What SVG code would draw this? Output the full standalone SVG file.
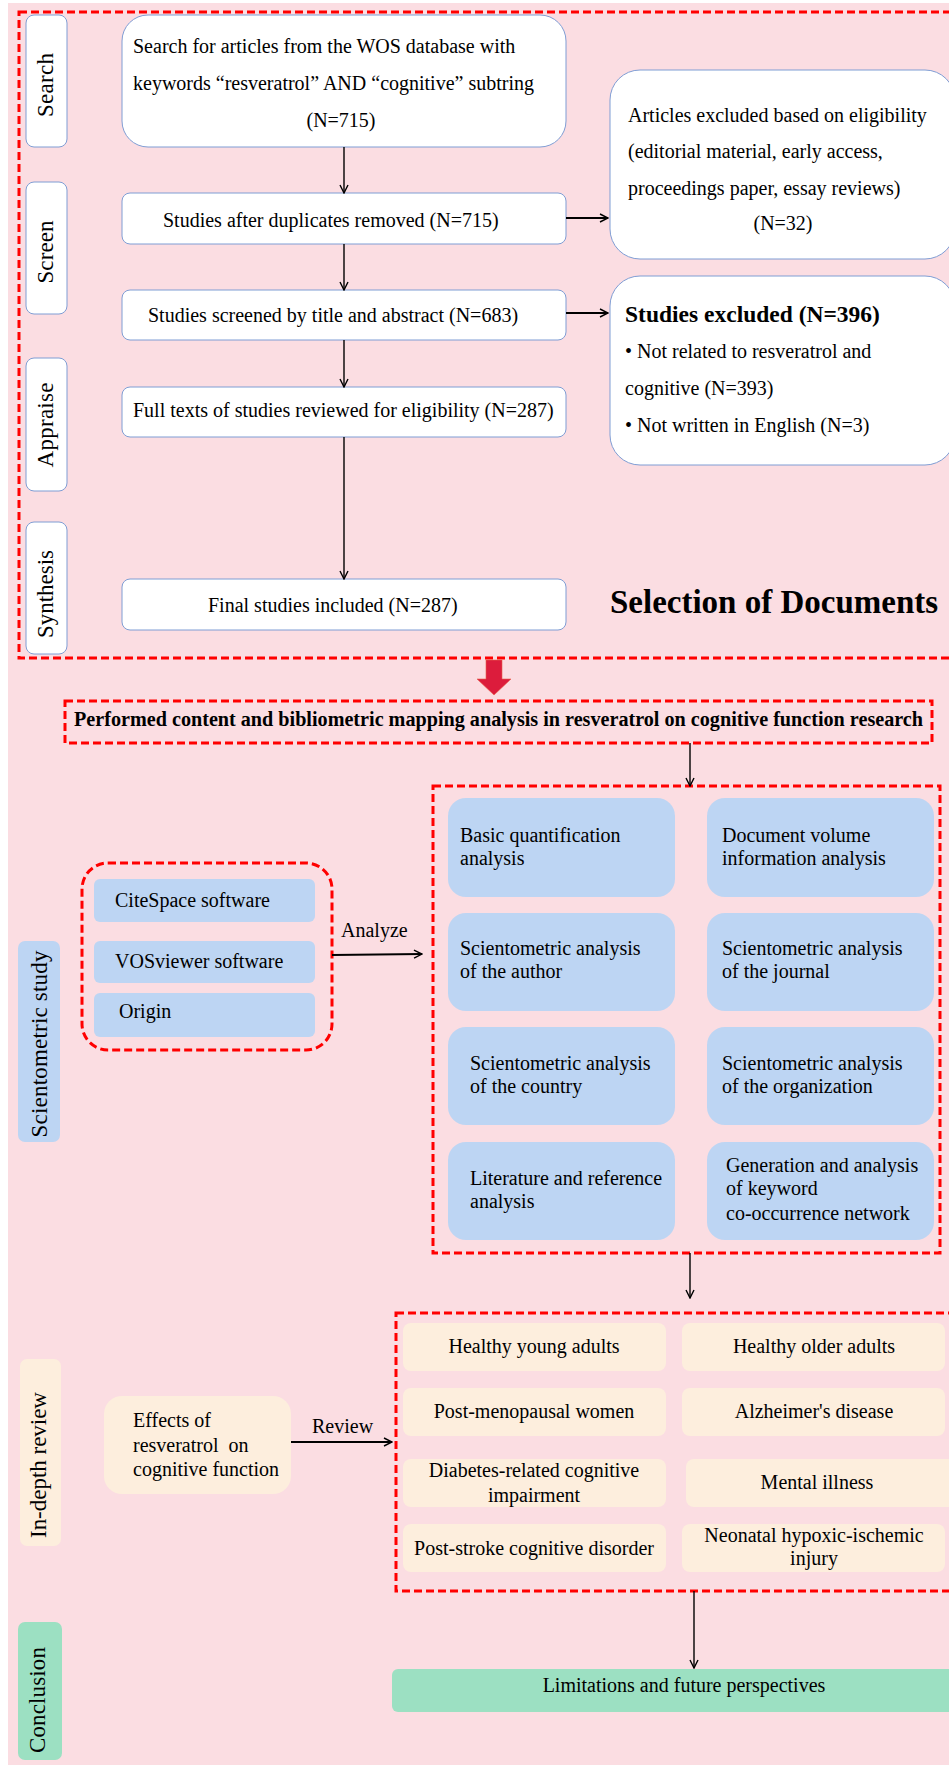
<svg xmlns="http://www.w3.org/2000/svg" width="949" height="1765" viewBox="0 0 949 1765">
<style>
text{font-family:"Liberation Serif","Times New Roman",serif;fill:#000}
.t{font-size:20px}
.b{font-weight:bold}
.side{font-size:23px;text-anchor:middle}
.wbox{fill:#fff;stroke:#7f9dd4;stroke-width:1}
.blue{fill:#bdd5f3}
.org{fill:#fdeedd}
.grn{fill:#9ce0c2}
.dash{fill:none;stroke:#ff0000;stroke-width:3;stroke-dasharray:8 4}
.c{stroke:#000;stroke-width:1.4;fill:none}
.c2{stroke:#000;stroke-width:2;fill:none}
.m{text-anchor:middle}
</style>
<defs>
<marker id="ah" markerWidth="10" markerHeight="10" refX="9" refY="5" orient="auto" markerUnits="userSpaceOnUse">
<path d="M1,1 L9,5 L1,9" fill="none" stroke="#000" stroke-width="1.4"/>
</marker>
</defs>
<rect x="8" y="3" width="941" height="1762" fill="#fbdde2"/>
<rect class="dash" x="19" y="12" width="940" height="646"/>

<g id="lbl-search"><rect class="wbox" x="26" y="15" width="41" height="132" rx="8"/><text class="side" transform="translate(53,85) rotate(-90)" textLength="64" lengthAdjust="spacing">Search</text></g>
<g id="lbl-screen"><rect class="wbox" x="26" y="182" width="41" height="132" rx="8"/><text class="side" transform="translate(53,252) rotate(-90)" textLength="63" lengthAdjust="spacing">Screen</text></g>
<g id="lbl-appraise"><rect class="wbox" x="26" y="358" width="41" height="133" rx="8"/><text class="side" transform="translate(53,425) rotate(-90)" textLength="85" lengthAdjust="spacing">Appraise</text></g>
<g id="lbl-synthesis"><rect class="wbox" x="26" y="522" width="41" height="132" rx="8"/><text class="side" transform="translate(53,594) rotate(-90)" textLength="88" lengthAdjust="spacing">Synthesis</text></g>

<g id="n-search"><rect class="wbox" x="122" y="15" width="444" height="132" rx="26"/>
<text class="t" x="133" y="53">Search for articles from the WOS database with</text>
<text class="t" x="133" y="90">keywords “resveratrol” AND “cognitive” subtring</text>
<text class="t m" x="341" y="127">(N=715)</text></g>
<g id="n-dup"><rect class="wbox" x="122" y="193" width="444" height="51" rx="8"/><text class="t" x="163" y="227">Studies after duplicates removed (N=715)</text></g>
<g id="n-screened"><rect class="wbox" x="122" y="290" width="444" height="50" rx="8"/><text class="t" x="148" y="322">Studies screened by title and abstract (N=683)</text></g>
<g id="n-full"><rect class="wbox" x="122" y="387" width="444" height="50" rx="8"/><text class="t" x="133" y="417">Full texts of studies reviewed for eligibility (N=287)</text></g>
<g id="n-final"><rect class="wbox" x="122" y="579" width="444" height="51" rx="8"/><text class="t" x="208" y="612">Final studies included (N=287)</text></g>

<g id="n-artexcl"><rect class="wbox" x="610" y="70" width="345" height="189" rx="30"/>
<text class="t" x="628" y="122">Articles excluded based on eligibility</text>
<text class="t" x="628" y="158">(editorial material, early access,</text>
<text class="t" x="628" y="195">proceedings paper, essay reviews)</text>
<text class="t m" x="783" y="230">(N=32)</text></g>
<g id="n-studexcl"><rect class="wbox" x="610" y="276" width="345" height="189" rx="30"/>
<text class="b" style="font-size:23.5px" x="625" y="322">Studies excluded (N=396)</text>
<text class="t" x="625" y="358">• Not related to resveratrol and</text>
<text class="t" x="625" y="395">cognitive (N=393)</text>
<text class="t" x="625" y="432">• Not written in English (N=3)</text></g>

<text id="title" class="b" style="font-size:33px" x="610" y="613">Selection of Documents</text>

<g id="n-performed"><rect class="dash" x="65" y="701" width="867" height="42"/>
<text class="b" style="font-size:20px" x="74" y="726" textLength="849" lengthAdjust="spacingAndGlyphs">Performed content and bibliometric mapping analysis in resveratrol on cognitive function research</text></g>

<g id="lbl-scient"><rect class="blue" x="18" y="941" width="42" height="201" rx="7"/><text class="side" transform="translate(47,1044) rotate(-90)" textLength="187" lengthAdjust="spacing">Scientometric study</text></g>

<g id="n-software"><rect class="dash" x="82" y="863" width="250" height="187" rx="26"/>
<rect class="blue" x="94" y="879" width="221" height="43" rx="6"/><text class="t" x="115" y="907">CiteSpace software</text>
<rect class="blue" x="94" y="941" width="221" height="42" rx="6"/><text class="t" x="115" y="968">VOSviewer software</text>
<rect class="blue" x="94" y="993" width="221" height="44" rx="6"/><text class="t" x="119" y="1018">Origin</text></g>
<text class="t" x="341" y="937">Analyze</text>

<g id="n-analysis"><rect class="dash" x="433" y="786" width="507" height="467"/>
<rect class="blue" x="448" y="798" width="227" height="99" rx="18"/><text class="t" x="460" y="842">Basic quantification</text><text class="t" x="460" y="865">analysis</text>
<rect class="blue" x="707" y="798" width="227" height="99" rx="18"/><text class="t" x="722" y="842">Document volume</text><text class="t" x="722" y="865">information analysis</text>
<rect class="blue" x="448" y="913" width="227" height="98" rx="18"/><text class="t" x="460" y="955">Scientometric analysis</text><text class="t" x="460" y="978">of the author</text>
<rect class="blue" x="707" y="913" width="227" height="98" rx="18"/><text class="t" x="722" y="955">Scientometric analysis</text><text class="t" x="722" y="978">of the journal</text>
<rect class="blue" x="448" y="1027" width="227" height="98" rx="18"/><text class="t" x="470" y="1070">Scientometric analysis</text><text class="t" x="470" y="1093">of the country</text>
<rect class="blue" x="707" y="1027" width="227" height="98" rx="18"/><text class="t" x="722" y="1070">Scientometric analysis</text><text class="t" x="722" y="1093">of the organization</text>
<rect class="blue" x="448" y="1142" width="227" height="98" rx="18"/><text class="t" x="470" y="1185">Literature and reference</text><text class="t" x="470" y="1208">analysis</text>
<rect class="blue" x="707" y="1142" width="227" height="98" rx="18"/><text class="t" x="726" y="1172">Generation and analysis</text><text class="t" x="726" y="1195">of keyword</text><text class="t" x="726" y="1220">co-occurrence network</text></g>

<g id="lbl-review"><rect class="org" x="20" y="1359" width="41" height="187" rx="7"/><text class="side" transform="translate(46,1465) rotate(-90)" textLength="146" lengthAdjust="spacing">In-depth review</text></g>
<g id="n-effects"><rect class="org" x="104" y="1396" width="187" height="98" rx="18"/>
<text class="t" x="133" y="1427">Effects of</text><text class="t" x="133" y="1452" xml:space="preserve">resveratrol  on</text><text class="t" x="133" y="1476">cognitive function</text></g>
<text class="t" x="312" y="1433">Review</text>

<g id="n-topics"><rect class="dash" x="396" y="1313" width="570" height="278"/>
<rect class="org" x="403" y="1323" width="263" height="48" rx="8"/><text class="t m" x="534" y="1353">Healthy young adults</text>
<rect class="org" x="682" y="1323" width="263" height="48" rx="8"/><text class="t m" x="814" y="1353">Healthy older adults</text>
<rect class="org" x="403" y="1388" width="263" height="48" rx="8"/><text class="t m" x="534" y="1418">Post-menopausal women</text>
<rect class="org" x="682" y="1388" width="263" height="48" rx="8"/><text class="t m" x="814" y="1418">Alzheimer's disease</text>
<rect class="org" x="403" y="1459" width="263" height="48" rx="8"/><text class="t m" x="534" y="1477">Diabetes-related cognitive</text><text class="t m" x="534" y="1502">impairment</text>
<rect class="org" x="686" y="1459" width="270" height="48" rx="8"/><text class="t m" x="817" y="1489">Mental illness</text>
<rect class="org" x="403" y="1524" width="263" height="48" rx="8"/><text class="t m" x="534" y="1555">Post-stroke cognitive disorder</text>
<rect class="org" x="682" y="1524" width="263" height="48" rx="8"/><text class="t m" x="814" y="1542">Neonatal hypoxic-ischemic</text><text class="t m" x="814" y="1565">injury</text></g>

<g id="lbl-conclusion"><rect class="grn" x="18" y="1622" width="44" height="138" rx="7"/><text class="side" transform="translate(45,1700) rotate(-90)" textLength="106" lengthAdjust="spacing">Conclusion</text></g>
<g id="n-limits"><rect class="grn" x="392" y="1669" width="570" height="43" rx="6"/><text class="t m" x="684" y="1692">Limitations and future perspectives</text></g>

<g id="connectors">
<line class="c" x1="344" y1="147" x2="344" y2="193" marker-end="url(#ah)"/>
<line class="c" x1="344" y1="244" x2="344" y2="290" marker-end="url(#ah)"/>
<line class="c" x1="344" y1="340" x2="344" y2="387" marker-end="url(#ah)"/>
<line class="c" x1="344" y1="437" x2="344" y2="579" marker-end="url(#ah)"/>
<line class="c2" x1="566" y1="218" x2="608" y2="218" marker-end="url(#ah)"/>
<line class="c2" x1="566" y1="313" x2="608" y2="313" marker-end="url(#ah)"/>
<path d="M486,660 H502 V679 H511 L494,695 L477,679 H486 Z" fill="#dc1c3c" stroke="#e8604a" stroke-width="0.6"/>
<line class="c" x1="690" y1="743" x2="690" y2="786" marker-end="url(#ah)"/>
<line class="c2" x1="332" y1="955" x2="422" y2="954" marker-end="url(#ah)"/>
<line class="c" x1="690" y1="1253" x2="690" y2="1298" marker-end="url(#ah)"/>
<line class="c2" x1="291" y1="1442" x2="392" y2="1442" marker-end="url(#ah)"/>
<line class="c" x1="694" y1="1591" x2="694" y2="1668" marker-end="url(#ah)"/>
</g>
</svg>
